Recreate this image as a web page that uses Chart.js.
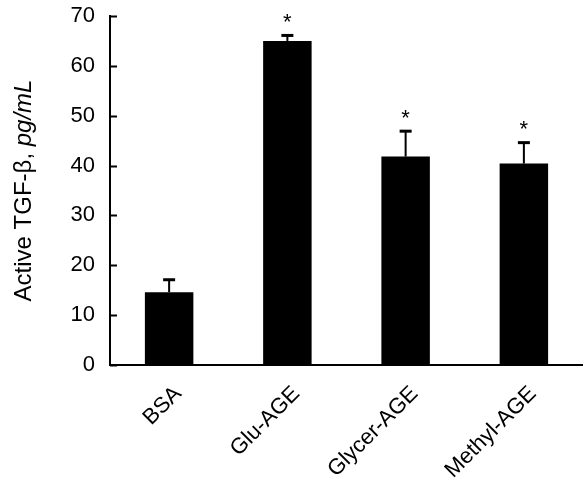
<!DOCTYPE html>
<html>
<head>
<meta charset="utf-8">
<script src="https://cdn.jsdelivr.net/npm/chart.js@4.4.0/dist/chart.umd.min.js"></script>
<style>
  html, body { margin: 0; padding: 0; background: #fff; overflow: hidden; }
</style>
</head>
<body>
<canvas id="tgfChart" width="583" height="483"></canvas>
<script>
// data
const groups = ["BSA", "Glu-AGE", "Glycer-AGE", "Methyl-AGE"];
const tgfMeans = [14.6, 65.0, 41.8, 40.4];
const tgfErrors = [2.6, 1.2, 5.2, 4.3];
const significant = [false, true, true, true];
const yTicks = [0, 10, 20, 30, 40, 50, 60, 70];

const FONT = "'Liberation Sans', Arial, Helvetica, sans-serif";

// error bars (upper only), asterisks, inward ticks and the mixed-style y title
const extras = {
    id: "extras",
    afterDatasetsDraw(chart) {
        const ctx = chart.ctx;
        const y = chart.scales.y;
        const meta = chart.getDatasetMeta(0);
        ctx.save();
        ctx.fillStyle = "#000";
        meta.data.forEach((bar, i) => {
            const top = y.getPixelForValue(tgfMeans[i]);
            const errTop = y.getPixelForValue(tgfMeans[i] + tgfErrors[i]);
            ctx.fillRect(bar.x - 1, errTop, 2, top - errTop);
            ctx.fillRect(bar.x - 6, errTop - 1, 12, 3);
            if (significant[i]) {
                ctx.font = "22px " + FONT;
                ctx.textAlign = "center";
                ctx.textBaseline = "middle";
                ctx.fillText("*", bar.x, errTop - 12);
            }
        });
        ctx.restore();
    },
    afterDraw(chart) {
        const ctx = chart.ctx;
        const y = chart.scales.y;
        const area = chart.chartArea;
        ctx.save();
        ctx.strokeStyle = "#000";
        ctx.lineWidth = 2;
        yTicks.forEach(v => {
            const py = Math.round(y.getPixelForValue(v)) + 0.5;
            ctx.beginPath();
            ctx.moveTo(area.left, py);
            ctx.lineTo(area.left + 7, py);
            ctx.stroke();
        });

        // y title: "Active TGF-β, " upright + "pg/mL" italic
        const partA = "Active TGF-\u03B2, ";
        const partB = "pg/mL";
        const fontA = "24px " + FONT;
        const fontB = "italic 24px " + FONT;
        ctx.font = fontA;
        const wA = ctx.measureText(partA).width;
        ctx.font = fontB;
        const wB = ctx.measureText(partB).width;
        const cy = (area.top + area.bottom) / 2;
        ctx.translate(24, cy);
        ctx.rotate(-Math.PI / 2);
        ctx.fillStyle = "#000";
        ctx.textBaseline = "middle";
        ctx.textAlign = "left";
        let start = -(wA + wB) / 2;
        ctx.font = fontA;
        ctx.fillText(partA, start, 0);
        ctx.font = fontB;
        ctx.fillText(partB, start + wA, 0);
        ctx.restore();
    }
};

const ctx = document.getElementById("tgfChart").getContext("2d");

new Chart(ctx, {
    type: "bar",
    data: {
        labels: groups,
        datasets: [{
            label: "Active TGF-\u03B2",
            data: tgfMeans,
            backgroundColor: "#000",
            borderWidth: 0,
            barPercentage: 0.41,
            categoryPercentage: 1.0
        }]
    },
    options: {
        responsive: false,
        animation: false,
        layout: { padding: { top: 16, right: 0, left: 0, bottom: 0 } },
        plugins: {
            legend: { display: false },
            tooltip: { enabled: false }
        },
        scales: {
            x: {
                grid: { display: false, drawTicks: false },
                border: { display: true, color: "#000", width: 2 },
                ticks: {
                    color: "#000",
                    font: { family: FONT, size: 22 },
                    minRotation: 45,
                    maxRotation: 45,
                    autoSkip: false,
                    padding: 16,
                    labelOffset: 9
                },
                afterFit(scale) {
                    scale.height = 118;
                    scale.paddingLeft = 0;
                    scale.paddingRight = 0;
                }
            },
            y: {
                min: 0,
                max: 70,
                grid: { display: false, drawTicks: false },
                border: { display: true, color: "#000", width: 2 },
                ticks: {
                    stepSize: 10,
                    color: "#000",
                    font: { family: FONT, size: 22 },
                    padding: 15
                },
                afterFit(scale) {
                    scale.width = 110;
                    scale.paddingTop = 0;
                    scale.paddingBottom = 0;
                }
            }
        }
    },
    plugins: [extras]
});
</script>
</body>
</html>
